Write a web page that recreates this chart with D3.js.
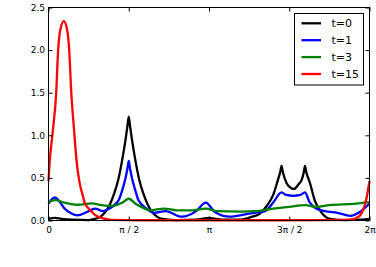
<!DOCTYPE html>
<html>
<head>
<meta charset="utf-8">
<script src="https://cdn.jsdelivr.net/npm/d3@7/dist/d3.min.js"></script>
<style>
  html, body { margin: 0; padding: 0; background: #fff; }
  svg { display: block; }
  text { font-family: "DejaVu Sans", sans-serif; }
</style>
</head>
<body>
<svg id="chart" width="376" height="267"></svg>
<script>
// x positions are in multiples of pi
const xTickValues = [0, 0.5, 1, 1.5, 2];
const xTickLabels = ["0", "π / 2", "π", "3π / 2", "2π"];
const yTickValues = [0, 0.5, 1.0, 1.5, 2.0, 2.5];

const seriesNames = ["t=0", "t=1", "t=3", "t=15"];
const seriesColors = ["#000000", "#0000ff", "#008000", "#ff0000"];

const xBlack = [0, 0.04, 0.08, 0.15, 0.25, 0.28, 0.32, 0.35, 0.38, 0.41, 0.435, 0.46, 0.48, 0.492, 0.5,
  0.508, 0.52, 0.54, 0.565, 0.59, 0.62, 0.65, 0.68, 0.72, 0.8, 0.92, 1.0, 1.08, 1.2, 1.27, 1.317, 1.36,
  1.40, 1.43, 1.444, 1.452, 1.46, 1.483, 1.505, 1.529, 1.556, 1.578, 1.59, 1.598, 1.606, 1.629, 1.66, 1.702,
  1.754, 1.85, 1.95, 2.0];
const yBlack = [0.02, 0.03, 0.02, 0.01, 0.005, 0.015, 0.04, 0.09, 0.18, 0.32, 0.48, 0.72, 0.95, 1.11, 1.22,
  1.11, 0.95, 0.72, 0.48, 0.32, 0.18, 0.09, 0.04, 0.015, 0.005, 0.01, 0.03, 0.01, 0.01, 0.045, 0.08, 0.17,
  0.30, 0.48, 0.57, 0.64, 0.57, 0.44, 0.39, 0.37, 0.42, 0.48, 0.56, 0.64, 0.57, 0.44, 0.23, 0.09,
  0.02, 0.005, 0.01, 0.02];

const xBlue = [0, 0.04, 0.07, 0.1, 0.14, 0.18, 0.24, 0.29, 0.34, 0.38, 0.41, 0.44, 0.46, 0.48, 0.492, 0.5,
  0.508, 0.52, 0.54, 0.56, 0.61, 0.66, 0.73, 0.83, 0.92, 0.98, 1.036, 1.13, 1.25, 1.32, 1.35, 1.40, 1.452,
  1.48, 1.525, 1.57, 1.598, 1.625, 1.66, 1.72, 1.8, 1.88, 1.94, 2.0];
const yBlue = [0.20, 0.27, 0.22, 0.14, 0.085, 0.06, 0.10, 0.14, 0.11, 0.14, 0.18, 0.25, 0.36, 0.50, 0.61, 0.70,
  0.61, 0.50, 0.36, 0.24, 0.14, 0.09, 0.11, 0.045, 0.11, 0.21, 0.10, 0.045, 0.08, 0.10, 0.11, 0.21, 0.33,
  0.30, 0.29, 0.30, 0.33, 0.22, 0.15, 0.11, 0.09, 0.055, 0.10, 0.20];

const xGreen = [0, 0.04, 0.1, 0.18, 0.27, 0.33, 0.40, 0.46, 0.5, 0.547, 0.6, 0.63, 0.72, 0.8, 0.9,
  0.98, 1.05, 1.2, 1.3, 1.4, 1.5, 1.6, 1.67, 1.75, 1.9, 2.0];
const yGreen = [0.215, 0.24, 0.21, 0.185, 0.20, 0.18, 0.17, 0.21, 0.255, 0.19, 0.14, 0.12, 0.14, 0.12, 0.12,
  0.14, 0.11, 0.105, 0.11, 0.14, 0.16, 0.18, 0.16, 0.18, 0.195, 0.215];

const xRed = [0, 0.007, 0.028, 0.048, 0.06, 0.075, 0.095, 0.115, 0.129, 0.142, 0.159, 0.176, 0.193,
  0.214, 0.225, 0.256, 0.287, 0.33, 0.39, 0.6, 1.0, 1.4, 1.7, 1.88, 1.93, 1.955, 1.98, 2.0];
const yRed = [0.46, 0.68, 1.07, 1.5, 2.0, 2.25, 2.34, 2.25, 2.0, 1.5, 1.07, 0.68, 0.45,
  0.29, 0.21, 0.13, 0.07, 0.03, 0.008, 0.003, 0.003, 0.003, 0.005, 0.01, 0.04, 0.10, 0.25, 0.46];

const seriesX = [xBlack, xBlue, xGreen, xRed];
const seriesY = [yBlack, yBlue, yGreen, yRed];

const svg = d3.select("#chart");
const pLeft = 48.5, pRight = 369.5, pTop = 7.5, pBottom = 220.5;

const x = d3.scaleLinear().domain([0, 2 * Math.PI]).range([pLeft, pRight]);
const y = d3.scaleLinear().domain([0, 2.5]).range([pBottom, pTop]);

const line = d3.line()
  .x(d => x(d[0] * Math.PI))
  .y(d => y(d[1]))
  .curve(d3.curveMonotoneX);

seriesNames.forEach((name, i) => {
  const pts = seriesX[i].map((v, j) => [v, seriesY[i][j]]);
  svg.append("path")
    .attr("d", line(pts))
    .attr("fill", "none")
    .attr("stroke", seriesColors[i])
    .attr("stroke-width", 2.3)
    .attr("stroke-linejoin", "round")
    .attr("stroke-linecap", "butt");
});

// axes
const fmtX = (d, i) => xTickLabels[i];
const xVals = xTickValues.map(v => v * Math.PI);

const gB = svg.append("g").attr("transform", `translate(0,${pBottom})`)
  .call(d3.axisBottom(x).tickValues(xVals).tickFormat(fmtX).tickSizeInner(-4).tickSizeOuter(0).tickPadding(6));
const gT = svg.append("g").attr("transform", `translate(0,${pTop})`)
  .call(d3.axisTop(x).tickValues(xVals).tickFormat("").tickSizeInner(-4).tickSizeOuter(0));
const gL = svg.append("g").attr("transform", `translate(${pLeft},0)`)
  .call(d3.axisLeft(y).tickValues(yTickValues).tickFormat(d3.format(".1f")).tickSizeInner(-4).tickSizeOuter(0).tickPadding(3.5));
const gR = svg.append("g").attr("transform", `translate(${pRight},0)`)
  .call(d3.axisRight(y).tickValues(yTickValues).tickFormat("").tickSizeInner(-4).tickSizeOuter(0));

[gB, gT, gL, gR].forEach(g => {
  g.select(".domain").remove();
  g.selectAll("line").attr("stroke", "#000");
  g.selectAll("text").attr("fill", "#000").style("font-size", "9px")
    .style("font-family", "'DejaVu Sans', sans-serif");
});

// frame
svg.append("rect")
  .attr("x", pLeft).attr("y", pTop)
  .attr("width", pRight - pLeft).attr("height", pBottom - pTop)
  .attr("fill", "none").attr("stroke", "#000").attr("stroke-width", 1);

// legend
const lg = svg.append("g");
lg.append("rect")
  .attr("x", 294.5).attr("y", 13.5).attr("width", 69).attr("height", 71.5)
  .attr("fill", "#fff").attr("stroke", "#000").attr("stroke-width", 1);
seriesNames.forEach((name, i) => {
  const cy = 23.3 + i * 16.9;
  lg.append("line")
    .attr("x1", 301.5).attr("x2", 321).attr("y1", cy).attr("y2", cy)
    .attr("stroke", seriesColors[i]).attr("stroke-width", 2.3);
  lg.append("text")
    .attr("x", 331.5).attr("y", cy).attr("dy", "0.36em")
    .style("font-size", "11px")
    .attr("fill", "#000")
    .text(name);
});
</script>
</body>
</html>
